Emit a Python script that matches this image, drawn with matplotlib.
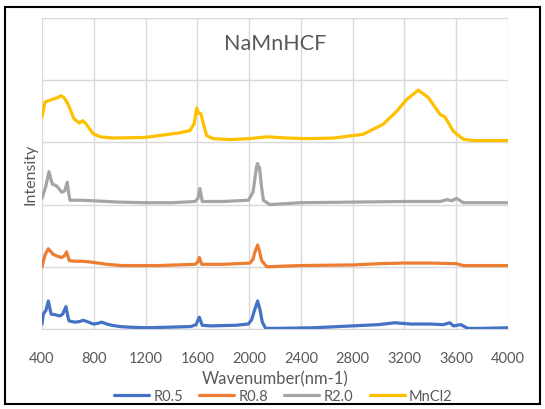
"""NaMnHCF spectra, stacked with a fixed offset (Excel-style line chart)."""
import numpy as np
import matplotlib
matplotlib.use('Agg')
from matplotlib import pyplot as plt
from matplotlib.patches import Rectangle

# ---------------------------------------------------------------------------
# Data (intensity above each trace's own baseline)
# ---------------------------------------------------------------------------
R05_X = [400, 410, 430, 449, 470, 500, 539, 560, 585, 600, 609, 630, 655, 690, 719,
         760, 796, 830, 861, 900, 938, 1000, 1067, 1200, 1400, 1550, 1590, 1615, 1638,
         1700, 1900, 1994, 2020, 2040, 2066, 2085, 2102, 2128, 2200, 2500, 2800, 3000,
         3125, 3250, 3400, 3500, 3549, 3580, 3635, 3690, 3800, 4000]
R05_Y = [0.08, 0.24, 0.30, 0.45, 0.24, 0.23, 0.21, 0.24, 0.36, 0.20, 0.13, 0.12, 0.11,
         0.12, 0.14, 0.11, 0.08, 0.09, 0.11, 0.08, 0.06, 0.04, 0.03, 0.02, 0.03, 0.04,
         0.07, 0.19, 0.06, 0.05, 0.06, 0.08, 0.15, 0.29, 0.45, 0.30, 0.11, 0.01, 0.01,
         0.02, 0.05, 0.07, 0.10, 0.08, 0.08, 0.07, 0.10, 0.05, 0.07, 0.01, 0.01, 0.02]

R08_X = [400, 423, 449, 470, 487, 520, 552, 575, 590, 611, 650, 706, 760, 835, 900,
         1016, 1300, 1582, 1600, 1615, 1634, 1800, 2007, 2030, 2045, 2066, 2080, 2097,
         2136, 2393, 2805, 3000, 3191, 3400, 3603, 3655, 4000]
R08_Y = [0.00, 0.19, 0.29, 0.24, 0.20, 0.17, 0.15, 0.18, 0.24, 0.10, 0.09, 0.09, 0.08,
         0.06, 0.04, 0.02, 0.02, 0.04, 0.07, 0.15, 0.04, 0.04, 0.06, 0.12, 0.24, 0.35,
         0.25, 0.10, 0.00, 0.02, 0.03, 0.05, 0.06, 0.06, 0.05, 0.02, 0.02]

R20_X = [400, 430, 454, 470, 480, 513, 552, 575, 595, 605, 616, 700, 809, 1000, 1196,
         1400, 1582, 1605, 1620, 1638, 1800, 1994, 2030, 2045, 2058, 2066, 2072, 2080,
         2095, 2110, 2161, 2393, 2800, 3191, 3475, 3531, 3565, 3603, 3655, 4000]
R20_Y = [0.10, 0.30, 0.53, 0.40, 0.33, 0.30, 0.20, 0.22, 0.36, 0.20, 0.07, 0.07, 0.06,
         0.04, 0.03, 0.03, 0.05, 0.10, 0.26, 0.05, 0.05, 0.07, 0.20, 0.42, 0.62, 0.66,
         0.58, 0.60, 0.30, 0.07, 0.00, 0.03, 0.04, 0.05, 0.05, 0.08, 0.06, 0.10, 0.03,
         0.03]

MNCL2_X = [400, 423, 450, 477, 520, 547, 570, 600, 647, 690, 714, 740, 794, 850, 941,
           1196, 1451, 1543, 1575, 1595, 1610, 1628, 1650, 1672, 1721, 1852, 2000, 2135,
           2300, 2445, 2650, 2880, 3035, 3140, 3217, 3307, 3385, 3475, 3513, 3577, 3655,
           3730, 4000]
MNCL2_Y = [0.41, 0.65, 0.67, 0.69, 0.72, 0.75, 0.72, 0.62, 0.38, 0.31, 0.35, 0.30, 0.14,
           0.09, 0.07, 0.08, 0.15, 0.19, 0.30, 0.55, 0.47, 0.46, 0.27, 0.11, 0.06, 0.045,
           0.06, 0.09, 0.07, 0.06, 0.07, 0.13, 0.29, 0.50, 0.69, 0.84, 0.72, 0.45, 0.41,
           0.18, 0.05, 0.03, 0.03]

LABELS = ['R0.5', 'R0.8', 'R2.0', 'MnCl2']
STACK_OFFSETS = [0, 1, 2, 3]
X_TICKS = list(range(400, 4001, 400))

COLORS = ['#4472C4', '#ED7D31', '#A5A5A5', '#FFC000']
GRID_C = '#D9D9D9'
TEXT_C = '#595959'

# ---------------------------------------------------------------------------
# Plot
# ---------------------------------------------------------------------------
plt.rcParams['font.family'] = ['Lato', 'DejaVu Sans']

fig = plt.figure(figsize=(5.45, 4.10), dpi=100)
ax = fig.add_axes([42 / 545, 80 / 410, 466 / 545, 311 / 410])

series = [(R05_X, R05_Y), (R08_X, R08_Y), (R20_X, R20_Y), (MNCL2_X, MNCL2_Y)]
for (xs, ys), off, c, lab in zip(series, STACK_OFFSETS, COLORS, LABELS):
    ax.plot(xs, np.array(ys) + off, color=c, lw=2.3, label=lab,
            solid_joinstyle='round', solid_capstyle='round', zorder=3)

ax.set_xlim(400, 4000)
ax.set_ylim(0, 5)
ax.set_xticks(X_TICKS)
ax.set_yticks(range(0, 6))
ax.set_yticklabels([])
ax.grid(True, color=GRID_C, lw=1.0, zorder=0)
ax.set_axisbelow(True)
for s in ['top', 'right', 'left']:
    ax.spines[s].set_visible(False)
ax.spines['bottom'].set_color(GRID_C)
ax.tick_params(axis='x', length=0, labelsize=10.5, colors=TEXT_C, pad=16)
ax.tick_params(axis='y', length=0, pad=0)

ax.set_xlabel('Wavenumber(nm-1)', fontsize=12, color=TEXT_C, labelpad=4)
ax.set_ylabel('Intensity', fontsize=11.5, color=TEXT_C, labelpad=3)
ax.text(0.5, 0.92, 'NaMnHCF', transform=ax.transAxes, ha='center', va='center',
        fontsize=15.5, color=TEXT_C)

fig.legend(loc='center', bbox_to_anchor=(0.52, 13 / 410), ncol=4, frameon=False,
           fontsize=10.5, handlelength=2.4, columnspacing=1.1, handletextpad=0.3,
           labelcolor=TEXT_C)

fig.patches.append(Rectangle((5 / 545, 5 / 410), 535 / 545, 397 / 410,
                             transform=fig.transFigure, fill=False,
                             edgecolor='black', lw=1.5))

fig.savefig('out.png', dpi=100)
